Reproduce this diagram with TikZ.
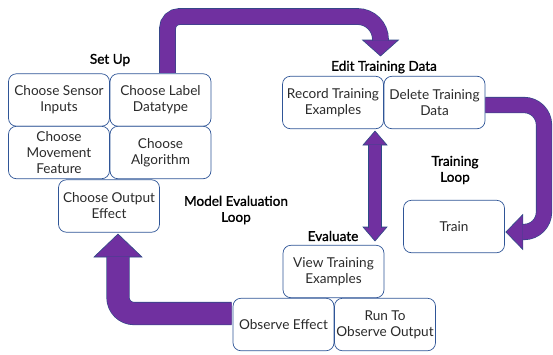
\documentclass[tikz,border=0pt]{standalone}
\usepackage{fontspec}
\setmainfont{Lato}
\newfontfamily\lblfont[FakeBold=1.2]{Lato}
\usetikzlibrary{calc}
\definecolor{boxblue}{HTML}{2F5597}
\definecolor{arrowpurple}{HTML}{7030A0}
\definecolor{arrowline}{HTML}{2E4A86}
\definecolor{txt}{HTML}{2B2B2B}
\tikzset{
  box/.style={draw=boxblue, line width=0.7pt, rounded corners=8pt, fill=white,
    minimum width=101pt, minimum height=52.5pt, align=center, inner sep=1pt,
    text=txt, font=\fontsize{13.6}{16}\selectfont},
  lbl/.style={align=center, text=black, font=\lblfont\fontsize{13.6}{16}\selectfont},
  band/.style={draw=arrowline, line width=0.6pt, double=arrowpurple, double distance=#1},
  headtri/.style={fill=arrowpurple, draw=arrowline, line width=0.6pt, line join=miter}
}
\begin{document}
\begin{tikzpicture}[x=1pt,y=-1pt]
\useasboundingbox (0,0) rectangle (553,354);
% boxes
\node[box] (sensor) at (59,100) {Choose Sensor\\Inputs};
\node[box] (label) at (160.5,100) {Choose Label\\Datatype};
\node[box] (movement) at (59,152.5) {Choose\\Movement\\Feature};
\node[box] (algo) at (160.5,152.5) {Choose\\Algorithm};
\node[box] (output) at (109,206) {Choose Output\\Effect};
\node[box] (record) at (333,102.5) {Record Training\\Examples};
\node[box] (delete) at (434.5,102.5) {Delete Training\\Data};
\node[box] (train) at (454,226.5) {Train};
\node[box] (view) at (333.5,271.5) {View Training\\Examples};
\node[box] (observe) at (283.5,324.5) {Observe Effect};
\node[box] (run) at (385,324.5) {Run To\\Observe Output};
% labels
\node[lbl] (setup) at (110,60) {Set Up};
\node[lbl] (edit) at (384,67) {Edit Training Data};
\node[lbl] (tloop) at (455,170) {Training\\Loop};
\node[lbl] (meloop) at (236,210) {Model Evaluation\\Loop};
\node[lbl] (evaluate) at (333,236) {Evaluate};
% arrow 1: Choose Label Datatype -> Edit Training Data
\coordinate (a1s) at ($(label.north)+(7,-0.5)$);
\coordinate (a1c) at ($(a1s |- 0,16.5)$);
\coordinate (a1e) at (380.5,40.5);
\fill[headtri] (362.5,40) -- (398.5,40) -- (380.5,56) -- cycle;
\draw[band=15.5pt] (a1s) [rounded corners=12pt] -- (a1c) [rounded corners=23pt] -- (a1c -| a1e) -- (a1e);
% arrow 2: Delete Training Data -> Train
\coordinate (a2s) at ($(delete.east)+(0,2.5)$);
\coordinate (a2e) at ($(train.east)+(18,5.5)$);
\fill[headtri] ($(train.east)+(18,-12)$) -- ($(train.east)+(18,23)$) -- ($(train.east)+(1,5.5)$) -- cycle;
\draw[band=15pt,rounded corners=20pt] (a2s) -- (544,105) -- (544 ,232) -- ($(a2e)+(-0.5,0)$);
% arrow 3: Record Training Examples <-> View Training Examples
\coordinate (a3t) at (375,145);
\coordinate (a3b) at (375,227);
\fill[headtri] (363,145) -- (387,145) -- (375,131) -- cycle;
\fill[headtri] (363,227) -- (387,227) -- (375,241) -- cycle;
\draw[band=12.5pt] ($(a3t)+(0,-0.5)$) -- ($(a3b)+(0,0.5)$);
% arrow 4: Observe Effect -> Choose Output Effect
\coordinate (a4s) at ($(observe.west |- 0,313.5)+(-1,0)$);
\fill[headtri] (94,257) -- (142,257) -- (118,234) -- cycle;
\draw[band=22pt,rounded corners=16pt] (a4s) -- (118,313.5) -- (118,256.5);
\end{tikzpicture}
\end{document}
